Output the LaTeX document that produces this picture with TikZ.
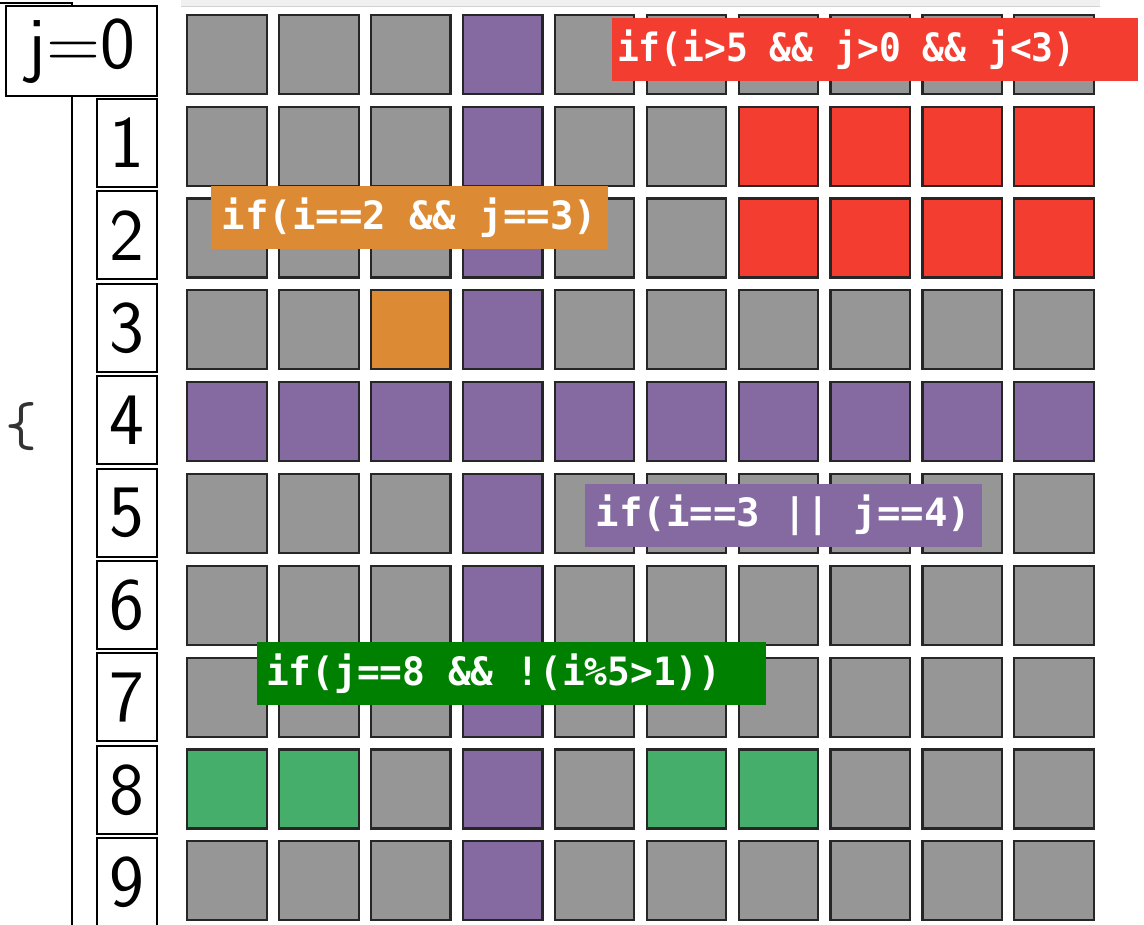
\documentclass[tikz,border=0pt]{standalone}
\usepackage{fontspec}
\newfontfamily\monob{DejaVu Sans Mono}[BoldFont={DejaVu Sans Mono Bold}]
\definecolor{cgray}{HTML}{969696}
\definecolor{cpurple}{HTML}{846AA0}
\definecolor{cred}{HTML}{F23D30}
\definecolor{corange}{HTML}{DC8A34}
\definecolor{cgreen}{HTML}{45AE6B}
\definecolor{lgreen}{HTML}{008000}
\definecolor{edge}{HTML}{262626}
\begin{document}
\begin{tikzpicture}[x=1pt,y=-1pt,
  cell/.style={draw=edge,line width=2.2pt,minimum width=79.5pt,minimum height=79pt,inner sep=0pt,rectangle},
  idx/.style={draw=black,line width=2pt,fill=white,inner sep=0pt,font=\sffamily\fontsize{74}{74}\selectfont},
  lbl/.style={inner sep=0pt,minimum height=63pt,text=white,font=\monob\bfseries\fontsize{39}{40}\selectfont}]
\useasboundingbox (0,0) rectangle (1144,925);
% top bar
\fill[gray!12] (181,0) rectangle (1100,7);
\draw[gray!35,line width=1pt] (181,7) -- (1100,7);
% left frame line
\coordinate (lt) at (0,3);
\coordinate (lc) at (72,3);
\coordinate (lb) at (72,925);
\draw[line width=2pt] (lt) -- (lc) -- (lb);
% code fragment
\node[font=\ttfamily\fontsize{62}{62}\selectfont,text=black!80,inner sep=0pt] (brace) at (21,427) {\{};
% grid
\foreach \i in {0,...,9}{
  \foreach \j in {0,...,9}{
    \def\cc{cgray}
    \ifnum\i=3 \def\cc{cpurple}\fi
    \ifnum\j=4 \def\cc{cpurple}\fi
    \ifnum\i>5 \ifnum\j>0 \ifnum\j<3 \def\cc{cred}\fi\fi\fi
    \ifnum\i=2 \ifnum\j=3 \def\cc{corange}\fi\fi
    \ifnum\j=8
      \ifnum\i=0 \def\cc{cgreen}\fi
      \ifnum\i=1 \def\cc{cgreen}\fi
      \ifnum\i=5 \def\cc{cgreen}\fi
      \ifnum\i=6 \def\cc{cgreen}\fi
    \fi
    \node[cell,fill=\cc] (c\i\j) at ({227+91.9*\i},{54.5+91.8*\j}) {};
  }
}
% index boxes
\node[idx,minimum width=151pt,minimum height=90pt] (j0) at (81.5,51) {j=0};
\foreach \k in {1,...,9}{
  \node[idx,minimum width=60pt,minimum height=88pt] (j\k) at (127,{143+92.4*(\k-1)}) {\k};
}
% labels
\node[lbl,fill=cred,minimum width=526pt] (lred) at (875,49.5) {\makebox[526pt][l]{\hspace{5pt}\scalebox{0.93}[1]{if(i>5 \&\& j>0 \&\& j<3)}}};
\node[lbl,fill=corange,minimum width=397pt] (lorange) at (409.5,217.5) {if(i==2 \&\& j==3)};
\node[lbl,fill=cpurple,minimum width=397pt] (lpurple) at (783.5,515.5) {if(i==3 || j==4)};
\node[lbl,fill=lgreen,minimum width=509pt] (lgreenlab) at (511.5,673.5) {\makebox[509pt][l]{\hspace{9pt}\scalebox{0.97}[1]{if(j==8 \&\& !(i\%5>1))}}};
\end{tikzpicture}
\end{document}
